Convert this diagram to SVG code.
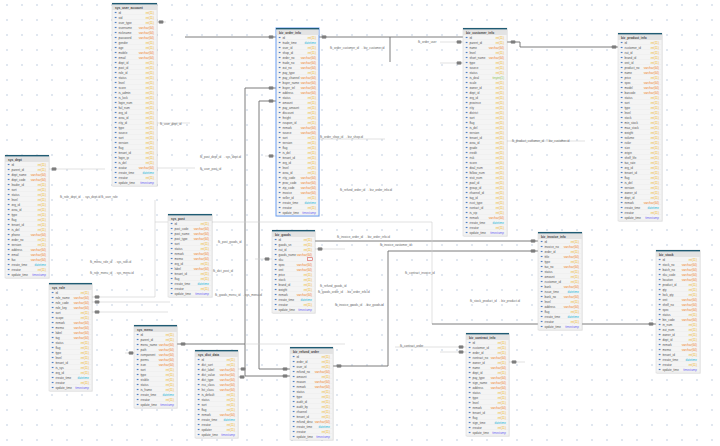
<svg xmlns="http://www.w3.org/2000/svg" width="720" height="446" viewBox="0 0 720 446">
<defs>
<pattern id="grid" patternUnits="userSpaceOnUse" width="15" height="15"><circle cx="7" cy="5" r="0.7" fill="#a9bcd4"/></pattern>
<pattern id="ic" patternUnits="userSpaceOnUse" width="5" height="5"><rect x="0" y="1.9" width="2" height="1.2" fill="#4f80c4"/></pattern>
<pattern id="sep" patternUnits="userSpaceOnUse" width="10" height="5"><rect x="0" y="4.75" width="10" height="0.25" fill="#e2e2e2"/></pattern>
<style>
.sh{fill:#000;opacity:.07}
.bd{fill:#f4f4f4;stroke:#d4d4d4;stroke-width:.5}
.sel{fill:#f4f4f4;stroke:#6a9ef2;stroke-width:1}
.hd{fill:#e3e3e3}
.bar{fill:#1f5b73}
.tt{font-family:"Liberation Sans",Arial,sans-serif;font-size:3.2px;font-weight:bold;fill:#444}
.nm{font-family:"Liberation Sans",Arial,sans-serif;font-size:3px;fill:#555}
.ty{font-family:"Liberation Sans",Arial,sans-serif;font-size:3px;text-anchor:end}
.i{fill:#efb21a}.v{fill:#ef7f1e}.d{fill:#1db5d8}.t{fill:#6f66f2}.g{fill:#8bc34a}
.c{fill:none;stroke:#6e6e6e;stroke-width:.9}
.cl{fill:none;stroke:#cdcdcd;stroke-width:.6}
.mk{fill:#7d7d7d;stroke:#9a9a9a;stroke-width:.3}
.lb{font-family:"Liberation Sans",Arial,sans-serif;font-size:3px;fill:#666}
</style>
</defs>
<rect width="720" height="446" fill="#ffffff"/>
<rect width="720" height="446" fill="url(#grid)"/>

<g id="connectors">
<path class="c" d="M185,37 H277"/>
<path class="c" d="M319,37 H463"/>
<path class="c" d="M390,37 V62"/>
<path class="cl" d="M440,42 H463 M440,63 H463"/>
<path class="c" d="M507,42 H520 V47 H618"/>
<path class="c" d="M277,88 H245 V376 H290"/>
<path class="c" d="M277,101 H259 V369 H290"/>
<path class="c" d="M333,366 H388 V251 H538"/>
<path class="c" d="M315,241 H538"/>
<path class="cl" d="M315,249 H345"/>
<path class="cl" d="M155,222 H432 V324"/>
<path class="c" d="M432,324 H656"/>
<path class="c" d="M177,344 H245"/>
<path class="cl" d="M245,344 H345"/>
<path class="cl" d="M238,369 H245 M238,377 H245"/>
<path class="cl" d="M125,353 H134"/>
<path class="cl" d="M92,297 H155 V200 M92,302 H170 M92,312 H168"/>
<path class="cl" d="M49,169 H105"/>
<path class="cl" d="M157,22 H166"/>
<path class="cl" d="M265,156 H276"/>
<path class="cl" d="M395,347 H466 M440,352 H466"/>
<path class="cl" d="M509,362 H525"/>
<path class="cl" d="M255,259 H272"/>
<path class="cl" d="M157,123 H190 M157,168 H195"/>
<path class="cl" d="M319,139 H385 M507,141 H585"/>
<rect class="mk" x="268.8" y="35.5" width="4.5" height="3" rx=".8"/>
<rect class="mk" x="321.8" y="35.5" width="4.5" height="3" rx=".8"/>
<rect class="mk" x="456.8" y="40.5" width="4.5" height="3" rx=".8"/>
<rect class="mk" x="456.8" y="61.5" width="4.5" height="3" rx=".8"/>
<rect class="mk" x="510.8" y="40.5" width="4.5" height="3" rx=".8"/>
<rect class="mk" x="611.8" y="45.5" width="4.5" height="3" rx=".8"/>
<rect class="mk" x="268.8" y="86.5" width="4.5" height="3" rx=".8"/>
<rect class="mk" x="268.8" y="99.5" width="4.5" height="3" rx=".8"/>
<rect class="mk" x="268.8" y="154.5" width="4.5" height="3" rx=".8"/>
<rect class="mk" x="158.8" y="20.5" width="4.5" height="3" rx=".8"/>
<rect class="mk" x="51.8" y="167.5" width="4.5" height="3" rx=".8"/>
<rect class="mk" x="94.8" y="295.5" width="4.5" height="3" rx=".8"/>
<rect class="mk" x="94.8" y="300.5" width="4.5" height="3" rx=".8"/>
<rect class="mk" x="94.8" y="310.5" width="4.5" height="3" rx=".8"/>
<rect class="mk" x="180.8" y="342.5" width="4.5" height="3" rx=".8"/>
<rect class="mk" x="128.8" y="351.5" width="4.5" height="3" rx=".8"/>
<rect class="mk" x="240.8" y="367.5" width="4.5" height="3" rx=".8"/>
<rect class="mk" x="239.8" y="375.5" width="4.5" height="3" rx=".8"/>
<rect class="mk" x="282.8" y="374.5" width="4.5" height="3" rx=".8"/>
<rect class="mk" x="282.8" y="367.5" width="4.5" height="3" rx=".8"/>
<rect class="mk" x="336.8" y="364.5" width="4.5" height="3" rx=".8"/>
<rect class="mk" x="264.8" y="257.5" width="4.5" height="3" rx=".8"/>
<rect class="mk" x="317.8" y="247.5" width="4.5" height="3" rx=".8"/>
<rect class="mk" x="530.8" y="239.5" width="4.5" height="3" rx=".8"/>
<rect class="mk" x="530.8" y="249.5" width="4.5" height="3" rx=".8"/>
<rect class="mk" x="648.8" y="322.5" width="4.5" height="3" rx=".8"/>
<rect class="mk" x="458.8" y="345.5" width="4.5" height="3" rx=".8"/>
<rect class="mk" x="458.8" y="350.5" width="4.5" height="3" rx=".8"/>
<rect class="mk" x="511.8" y="360.5" width="4.5" height="3" rx=".8"/>
<text class="lb" x="160" y="125">fk_user_dept_id</text>
<text class="lb" x="200" y="158">fk_post_dept_id → sys_dept.id</text>
<text class="lb" x="200" y="170">fk_user_post_id</text>
<text class="lb" x="60" y="198">fk_role_dept_id → sys_dept.id  fk_user_role</text>
<text class="lb" x="90" y="263">fk_menu_role_id → sys_role.id</text>
<text class="lb" x="90" y="274">fk_role_menu_id → sys_menu.id</text>
<text class="lb" x="218" y="243">fk_post_goods_id</text>
<text class="lb" x="213" y="272">fk_dict_post_id</text>
<text class="lb" x="215" y="296">fk_goods_menu_id → sys_menu.id</text>
<text class="lb" x="320" y="287">fk_refund_goods_id</text>
<text class="lb" x="318" y="293">fk_goods_order_id → biz_order_info.id</text>
<text class="lb" x="335" y="306">fk_invoice_goods_id → biz_goods.id</text>
<text class="lb" x="337" y="238">fk_invoice_order_id → biz_order_info.id</text>
<text class="lb" x="380" y="246">fk_invoice_customer_id</text>
<text class="lb" x="405" y="274">fk_contract_invoice_id</text>
<text class="lb" x="470" y="302">fk_stock_product_id → biz_product.id</text>
<text class="lb" x="330" y="49">fk_order_customer_id → biz_customer.id</text>
<text class="lb" x="418" y="43">fk_order_user</text>
<text class="lb" x="320" y="138">fk_order_shop_id → biz_shop.id</text>
<text class="lb" x="512" y="142">fk_product_customer_id → biz_customer.id</text>
<text class="lb" x="340" y="191">fk_refund_order_id → biz_order_info.id</text>
<text class="lb" x="400" y="347">fk_contract_order</text>
</g>

<g id="t1" transform="translate(112,3)">
<rect class="sh" x=".8" y=".8" width="45" height="183"/>
<rect class="bd" width="45" height="183"/>
<rect class="hd" y="1.3" width="45" height="5.7"/>
<rect class="bar" width="45" height="1.4"/>
<text class="tt" x="3" y="5.5">sys_user_account</text>
<rect x="1" y="0" width="43" height="175" fill="url(#sep)" transform="translate(0,7)"/>
<rect x="0" y="0" width="5" height="175" fill="url(#ic)" transform="translate(2.5,7)"/>
<text class="nm" y="5.6"><tspan x="6.5" dy="5">id</tspan><tspan x="6.5" dy="5">uid</tspan><tspan x="6.5" dy="5">user_type</tspan><tspan x="6.5" dy="5">username</tspan><tspan x="6.5" dy="5">nickname</tspan><tspan x="6.5" dy="5">password</tspan><tspan x="6.5" dy="5">gender</tspan><tspan x="6.5" dy="5">age</tspan><tspan x="6.5" dy="5">mobile</tspan><tspan x="6.5" dy="5">email</tspan><tspan x="6.5" dy="5">dept_id</tspan><tspan x="6.5" dy="5">post_id</tspan><tspan x="6.5" dy="5">role_id</tspan><tspan x="6.5" dy="5">status</tspan><tspan x="6.5" dy="5">level</tspan><tspan x="6.5" dy="5">score</tspan><tspan x="6.5" dy="5">is_admin</tspan><tspan x="6.5" dy="5">is_lock</tspan><tspan x="6.5" dy="5">login_num</tspan><tspan x="6.5" dy="5">fail_num</tspan><tspan x="6.5" dy="5">org_id</tspan><tspan x="6.5" dy="5">area_id</tspan><tspan x="6.5" dy="5">city_id</tspan><tspan x="6.5" dy="5">type</tspan><tspan x="6.5" dy="5">source</tspan><tspan x="6.5" dy="5">sort</tspan><tspan x="6.5" dy="5">version</tspan><tspan x="6.5" dy="5">flag</tspan><tspan x="6.5" dy="5">tenant_id</tspan><tspan x="6.5" dy="5">login_ip</tspan><tspan x="6.5" dy="5">is_del</tspan><tspan x="6.5" dy="5">avatar</tspan><tspan x="6.5" dy="5">create_time</tspan><tspan x="6.5" dy="5">creator</tspan><tspan x="6.5" dy="5">update_time</tspan></text>
<text class="ty" y="5.6"><tspan x="42" dy="5" class="i">int(11)</tspan><tspan x="42" dy="5" class="i">int(11)</tspan><tspan x="42" dy="5" class="i">int(11)</tspan><tspan x="42" dy="5" class="v">varchar(64)</tspan><tspan x="42" dy="5" class="v">varchar(64)</tspan><tspan x="42" dy="5" class="v">varchar(64)</tspan><tspan x="42" dy="5" class="i">int(11)</tspan><tspan x="42" dy="5" class="i">int(11)</tspan><tspan x="42" dy="5" class="v">varchar(64)</tspan><tspan x="42" dy="5" class="v">varchar(64)</tspan><tspan x="42" dy="5" class="i">int(11)</tspan><tspan x="42" dy="5" class="i">int(11)</tspan><tspan x="42" dy="5" class="i">int(11)</tspan><tspan x="42" dy="5" class="i">int(11)</tspan><tspan x="42" dy="5" class="i">int(11)</tspan><tspan x="42" dy="5" class="i">int(11)</tspan><tspan x="42" dy="5" class="i">int(11)</tspan><tspan x="42" dy="5" class="i">int(11)</tspan><tspan x="42" dy="5" class="i">int(11)</tspan><tspan x="42" dy="5" class="i">int(11)</tspan><tspan x="42" dy="5" class="i">int(11)</tspan><tspan x="42" dy="5" class="i">int(11)</tspan><tspan x="42" dy="5" class="i">int(11)</tspan><tspan x="42" dy="5" class="i">int(11)</tspan><tspan x="42" dy="5" class="i">int(11)</tspan><tspan x="42" dy="5" class="i">int(11)</tspan><tspan x="42" dy="5" class="i">int(11)</tspan><tspan x="42" dy="5" class="i">int(11)</tspan><tspan x="42" dy="5" class="i">int(11)</tspan><tspan x="42" dy="5" class="i">int(11)</tspan><tspan x="42" dy="5" class="i">int(11)</tspan><tspan x="42" dy="5" class="v">varchar(64)</tspan><tspan x="42" dy="5" class="d">datetime</tspan><tspan x="42" dy="5" class="i">int(11)</tspan><tspan x="42" dy="5" class="t">timestamp</tspan></text>
</g>

<g id="t2" transform="translate(5,155)">
<rect class="sh" x=".8" y=".8" width="44" height="123"/>
<rect class="bd" width="44" height="123"/>
<rect class="hd" y="1.3" width="44" height="5.7"/>
<rect class="bar" width="44" height="1.4"/>
<text class="tt" x="3" y="5.5">sys_dept</text>
<rect x="1" y="0" width="42" height="115" fill="url(#sep)" transform="translate(0,7)"/>
<rect x="0" y="0" width="5" height="115" fill="url(#ic)" transform="translate(2.5,7)"/>
<text class="nm" y="5.6"><tspan x="6.5" dy="5">id</tspan><tspan x="6.5" dy="5">parent_id</tspan><tspan x="6.5" dy="5">dept_name</tspan><tspan x="6.5" dy="5">dept_code</tspan><tspan x="6.5" dy="5">leader_id</tspan><tspan x="6.5" dy="5">sort</tspan><tspan x="6.5" dy="5">status</tspan><tspan x="6.5" dy="5">level</tspan><tspan x="6.5" dy="5">org_id</tspan><tspan x="6.5" dy="5">area_id</tspan><tspan x="6.5" dy="5">type</tspan><tspan x="6.5" dy="5">flag</tspan><tspan x="6.5" dy="5">tenant_id</tspan><tspan x="6.5" dy="5">is_del</tspan><tspan x="6.5" dy="5">phone</tspan><tspan x="6.5" dy="5">order_no</tspan><tspan x="6.5" dy="5">version</tspan><tspan x="6.5" dy="5">address</tspan><tspan x="6.5" dy="5">email</tspan><tspan x="6.5" dy="5">fax</tspan><tspan x="6.5" dy="5">create_time</tspan><tspan x="6.5" dy="5">creator</tspan><tspan x="6.5" dy="5">update_time</tspan></text>
<text class="ty" y="5.6"><tspan x="41" dy="5" class="i">int(11)</tspan><tspan x="41" dy="5" class="i">int(11)</tspan><tspan x="41" dy="5" class="v">varchar(64)</tspan><tspan x="41" dy="5" class="v">varchar(64)</tspan><tspan x="41" dy="5" class="i">int(11)</tspan><tspan x="41" dy="5" class="i">int(11)</tspan><tspan x="41" dy="5" class="i">int(11)</tspan><tspan x="41" dy="5" class="i">int(11)</tspan><tspan x="41" dy="5" class="i">int(11)</tspan><tspan x="41" dy="5" class="i">int(11)</tspan><tspan x="41" dy="5" class="i">int(11)</tspan><tspan x="41" dy="5" class="i">int(11)</tspan><tspan x="41" dy="5" class="i">int(11)</tspan><tspan x="41" dy="5" class="i">int(11)</tspan><tspan x="41" dy="5" class="v">varchar(64)</tspan><tspan x="41" dy="5" class="i">int(11)</tspan><tspan x="41" dy="5" class="i">int(11)</tspan><tspan x="41" dy="5" class="v">varchar(64)</tspan><tspan x="41" dy="5" class="v">varchar(64)</tspan><tspan x="41" dy="5" class="v">varchar(64)</tspan><tspan x="41" dy="5" class="d">datetime</tspan><tspan x="41" dy="5" class="i">int(11)</tspan><tspan x="41" dy="5" class="t">timestamp</tspan></text>
</g>

<g id="t3" transform="translate(49,283)">
<rect class="sh" x=".8" y=".8" width="43" height="108"/>
<rect class="bd" width="43" height="108"/>
<rect class="hd" y="1.3" width="43" height="5.7"/>
<rect class="bar" width="43" height="1.4"/>
<text class="tt" x="3" y="5.5">sys_role</text>
<rect x="1" y="0" width="41" height="100" fill="url(#sep)" transform="translate(0,7)"/>
<rect x="0" y="0" width="5" height="100" fill="url(#ic)" transform="translate(2.5,7)"/>
<text class="nm" y="5.6"><tspan x="6.5" dy="5">id</tspan><tspan x="6.5" dy="5">role_name</tspan><tspan x="6.5" dy="5">role_code</tspan><tspan x="6.5" dy="5">role_key</tspan><tspan x="6.5" dy="5">sort</tspan><tspan x="6.5" dy="5">scope</tspan><tspan x="6.5" dy="5">remark</tspan><tspan x="6.5" dy="5">memo</tspan><tspan x="6.5" dy="5">label</tspan><tspan x="6.5" dy="5">tag</tspan><tspan x="6.5" dy="5">status</tspan><tspan x="6.5" dy="5">flag</tspan><tspan x="6.5" dy="5">type</tspan><tspan x="6.5" dy="5">level</tspan><tspan x="6.5" dy="5">tenant_id</tspan><tspan x="6.5" dy="5">is_sys</tspan><tspan x="6.5" dy="5">org_id</tspan><tspan x="6.5" dy="5">create_time</tspan><tspan x="6.5" dy="5">creator</tspan><tspan x="6.5" dy="5">update_time</tspan></text>
<text class="ty" y="5.6"><tspan x="40" dy="5" class="i">int(11)</tspan><tspan x="40" dy="5" class="v">varchar(64)</tspan><tspan x="40" dy="5" class="v">varchar(64)</tspan><tspan x="40" dy="5" class="v">varchar(64)</tspan><tspan x="40" dy="5" class="i">int(11)</tspan><tspan x="40" dy="5" class="i">int(11)</tspan><tspan x="40" dy="5" class="v">varchar(64)</tspan><tspan x="40" dy="5" class="v">varchar(64)</tspan><tspan x="40" dy="5" class="v">varchar(64)</tspan><tspan x="40" dy="5" class="v">varchar(64)</tspan><tspan x="40" dy="5" class="i">int(11)</tspan><tspan x="40" dy="5" class="i">int(11)</tspan><tspan x="40" dy="5" class="i">int(11)</tspan><tspan x="40" dy="5" class="i">int(11)</tspan><tspan x="40" dy="5" class="i">int(11)</tspan><tspan x="40" dy="5" class="i">int(11)</tspan><tspan x="40" dy="5" class="i">int(11)</tspan><tspan x="40" dy="5" class="d">datetime</tspan><tspan x="40" dy="5" class="i">int(11)</tspan><tspan x="40" dy="5" class="t">timestamp</tspan></text>
</g>

<g id="t4" transform="translate(134,325)">
<rect class="sh" x=".8" y=".8" width="43" height="83"/>
<rect class="bd" width="43" height="83"/>
<rect class="hd" y="1.3" width="43" height="5.7"/>
<rect class="bar" width="43" height="1.4"/>
<text class="tt" x="3" y="5.5">sys_menu</text>
<rect x="1" y="0" width="41" height="75" fill="url(#sep)" transform="translate(0,7)"/>
<rect x="0" y="0" width="5" height="75" fill="url(#ic)" transform="translate(2.5,7)"/>
<text class="nm" y="5.6"><tspan x="6.5" dy="5">id</tspan><tspan x="6.5" dy="5">parent_id</tspan><tspan x="6.5" dy="5">menu_name</tspan><tspan x="6.5" dy="5">path</tspan><tspan x="6.5" dy="5">component</tspan><tspan x="6.5" dy="5">perms</tspan><tspan x="6.5" dy="5">icon</tspan><tspan x="6.5" dy="5">sort</tspan><tspan x="6.5" dy="5">type</tspan><tspan x="6.5" dy="5">visible</tspan><tspan x="6.5" dy="5">status</tspan><tspan x="6.5" dy="5">is_frame</tspan><tspan x="6.5" dy="5">create_time</tspan><tspan x="6.5" dy="5">creator</tspan><tspan x="6.5" dy="5">update_time</tspan></text>
<text class="ty" y="5.6"><tspan x="40" dy="5" class="i">int(11)</tspan><tspan x="40" dy="5" class="i">int(11)</tspan><tspan x="40" dy="5" class="v">varchar(64)</tspan><tspan x="40" dy="5" class="v">varchar(64)</tspan><tspan x="40" dy="5" class="v">varchar(64)</tspan><tspan x="40" dy="5" class="v">varchar(64)</tspan><tspan x="40" dy="5" class="v">varchar(64)</tspan><tspan x="40" dy="5" class="i">int(11)</tspan><tspan x="40" dy="5" class="i">int(11)</tspan><tspan x="40" dy="5" class="i">int(11)</tspan><tspan x="40" dy="5" class="i">int(11)</tspan><tspan x="40" dy="5" class="i">int(11)</tspan><tspan x="40" dy="5" class="d">datetime</tspan><tspan x="40" dy="5" class="i">int(11)</tspan><tspan x="40" dy="5" class="t">timestamp</tspan></text>
</g>

<g id="t5" transform="translate(168,214)">
<rect class="sh" x=".8" y=".8" width="44" height="83"/>
<rect class="bd" width="44" height="83"/>
<rect class="hd" y="1.3" width="44" height="5.7"/>
<rect class="bar" width="44" height="1.4"/>
<text class="tt" x="3" y="5.5">sys_post</text>
<rect x="1" y="0" width="42" height="75" fill="url(#sep)" transform="translate(0,7)"/>
<rect x="0" y="0" width="5" height="75" fill="url(#ic)" transform="translate(2.5,7)"/>
<text class="nm" y="5.6"><tspan x="6.5" dy="5">id</tspan><tspan x="6.5" dy="5">post_code</tspan><tspan x="6.5" dy="5">post_name</tspan><tspan x="6.5" dy="5">post_type</tspan><tspan x="6.5" dy="5">sort</tspan><tspan x="6.5" dy="5">status</tspan><tspan x="6.5" dy="5">remark</tspan><tspan x="6.5" dy="5">memo</tspan><tspan x="6.5" dy="5">org_id</tspan><tspan x="6.5" dy="5">label</tspan><tspan x="6.5" dy="5">tenant_id</tspan><tspan x="6.5" dy="5">flag</tspan><tspan x="6.5" dy="5">create_time</tspan><tspan x="6.5" dy="5">creator</tspan><tspan x="6.5" dy="5">update_time</tspan></text>
<text class="ty" y="5.6"><tspan x="41" dy="5" class="i">int(11)</tspan><tspan x="41" dy="5" class="v">varchar(64)</tspan><tspan x="41" dy="5" class="v">varchar(64)</tspan><tspan x="41" dy="5" class="v">varchar(64)</tspan><tspan x="41" dy="5" class="i">int(11)</tspan><tspan x="41" dy="5" class="i">int(11)</tspan><tspan x="41" dy="5" class="v">varchar(64)</tspan><tspan x="41" dy="5" class="v">varchar(64)</tspan><tspan x="41" dy="5" class="i">int(11)</tspan><tspan x="41" dy="5" class="v">varchar(64)</tspan><tspan x="41" dy="5" class="i">int(11)</tspan><tspan x="41" dy="5" class="i">int(11)</tspan><tspan x="41" dy="5" class="d">datetime</tspan><tspan x="41" dy="5" class="i">int(11)</tspan><tspan x="41" dy="5" class="t">timestamp</tspan></text>
</g>

<g id="t6" transform="translate(195,350)">
<rect class="sh" x=".8" y=".8" width="43" height="88"/>
<rect class="bd" width="43" height="88"/>
<rect class="hd" y="1.3" width="43" height="5.7"/>
<rect class="bar" width="43" height="1.4"/>
<text class="tt" x="3" y="5.5">sys_dict_data</text>
<rect x="1" y="0" width="41" height="80" fill="url(#sep)" transform="translate(0,7)"/>
<rect x="0" y="0" width="5" height="80" fill="url(#ic)" transform="translate(2.5,7)"/>
<text class="nm" y="5.6"><tspan x="6.5" dy="5">id</tspan><tspan x="6.5" dy="5">dict_sort</tspan><tspan x="6.5" dy="5">dict_label</tspan><tspan x="6.5" dy="5">dict_value</tspan><tspan x="6.5" dy="5">dict_type</tspan><tspan x="6.5" dy="5">css_class</tspan><tspan x="6.5" dy="5">list_class</tspan><tspan x="6.5" dy="5">is_default</tspan><tspan x="6.5" dy="5">status</tspan><tspan x="6.5" dy="5">sort</tspan><tspan x="6.5" dy="5">flag</tspan><tspan x="6.5" dy="5">remark</tspan><tspan x="6.5" dy="5">create_time</tspan><tspan x="6.5" dy="5">creator</tspan><tspan x="6.5" dy="5">updater</tspan><tspan x="6.5" dy="5">update_time</tspan></text>
<text class="ty" y="5.6"><tspan x="40" dy="5" class="i">int(11)</tspan><tspan x="40" dy="5" class="i">int(11)</tspan><tspan x="40" dy="5" class="v">varchar(64)</tspan><tspan x="40" dy="5" class="v">varchar(64)</tspan><tspan x="40" dy="5" class="v">varchar(64)</tspan><tspan x="40" dy="5" class="v">varchar(64)</tspan><tspan x="40" dy="5" class="v">varchar(64)</tspan><tspan x="40" dy="5" class="i">int(11)</tspan><tspan x="40" dy="5" class="i">int(11)</tspan><tspan x="40" dy="5" class="i">int(11)</tspan><tspan x="40" dy="5" class="i">int(11)</tspan><tspan x="40" dy="5" class="v">varchar(64)</tspan><tspan x="40" dy="5" class="d">datetime</tspan><tspan x="40" dy="5" class="i">int(11)</tspan><tspan x="40" dy="5" class="i">int(11)</tspan><tspan x="40" dy="5" class="t">timestamp</tspan></text>
</g>

<g id="t7" transform="translate(276,28)">
<rect class="sh" x=".8" y=".8" width="43" height="188"/>
<rect class="sel" width="43" height="188"/>
<rect class="hd" x=".5" y="1.3" width="42" height="5.7"/>
<rect class="bar" width="43" height="1.4"/>
<text class="tt" x="3" y="5.5">biz_order_info</text>
<rect x="1" y="0" width="41" height="180" fill="url(#sep)" transform="translate(0,7)"/>
<rect x="0" y="0" width="5" height="180" fill="url(#ic)" transform="translate(2.5,7)"/>
<text class="nm" y="5.6"><tspan x="6.5" dy="5">id</tspan><tspan x="6.5" dy="5">trade_time</tspan><tspan x="6.5" dy="5">user_id</tspan><tspan x="6.5" dy="5">shop_id</tspan><tspan x="6.5" dy="5">order_no</tspan><tspan x="6.5" dy="5">trade_no</tspan><tspan x="6.5" dy="5">out_no</tspan><tspan x="6.5" dy="5">pay_type</tspan><tspan x="6.5" dy="5">pay_channel</tspan><tspan x="6.5" dy="5">buyer_name</tspan><tspan x="6.5" dy="5">buyer_tel</tspan><tspan x="6.5" dy="5">address</tspan><tspan x="6.5" dy="5">status</tspan><tspan x="6.5" dy="5">amount</tspan><tspan x="6.5" dy="5">pay_amount</tspan><tspan x="6.5" dy="5">discount</tspan><tspan x="6.5" dy="5">freight</tspan><tspan x="6.5" dy="5">coupon_id</tspan><tspan x="6.5" dy="5">remark</tspan><tspan x="6.5" dy="5">source</tspan><tspan x="6.5" dy="5">sort</tspan><tspan x="6.5" dy="5">version</tspan><tspan x="6.5" dy="5">flag</tspan><tspan x="6.5" dy="5">is_del</tspan><tspan x="6.5" dy="5">tenant_id</tspan><tspan x="6.5" dy="5">org_id</tspan><tspan x="6.5" dy="5">level</tspan><tspan x="6.5" dy="5">area_id</tspan><tspan x="6.5" dy="5">city_code</tspan><tspan x="6.5" dy="5">prov_code</tspan><tspan x="6.5" dy="5">zip_code</tspan><tspan x="6.5" dy="5">invoice</tspan><tspan x="6.5" dy="5">seller_id</tspan><tspan x="6.5" dy="5">create_time</tspan><tspan x="6.5" dy="5">creator</tspan><tspan x="6.5" dy="5">update_time</tspan></text>
<text class="ty" y="5.6"><tspan x="40" dy="5" class="i">int(11)</tspan><tspan x="40" dy="5" class="d">datetime</tspan><tspan x="40" dy="5" class="i">int(11)</tspan><tspan x="40" dy="5" class="i">int(11)</tspan><tspan x="40" dy="5" class="v">varchar(64)</tspan><tspan x="40" dy="5" class="v">varchar(64)</tspan><tspan x="40" dy="5" class="v">varchar(64)</tspan><tspan x="40" dy="5" class="i">int(11)</tspan><tspan x="40" dy="5" class="v">varchar(64)</tspan><tspan x="40" dy="5" class="v">varchar(64)</tspan><tspan x="40" dy="5" class="v">varchar(64)</tspan><tspan x="40" dy="5" class="v">varchar(64)</tspan><tspan x="40" dy="5" class="i">int(11)</tspan><tspan x="40" dy="5" class="i">int(11)</tspan><tspan x="40" dy="5" class="i">int(11)</tspan><tspan x="40" dy="5" class="i">int(11)</tspan><tspan x="40" dy="5" class="i">int(11)</tspan><tspan x="40" dy="5" class="i">int(11)</tspan><tspan x="40" dy="5" class="v">varchar(64)</tspan><tspan x="40" dy="5" class="v">varchar(64)</tspan><tspan x="40" dy="5" class="i">int(11)</tspan><tspan x="40" dy="5" class="i">int(11)</tspan><tspan x="40" dy="5" class="i">int(11)</tspan><tspan x="40" dy="5" class="i">int(11)</tspan><tspan x="40" dy="5" class="i">int(11)</tspan><tspan x="40" dy="5" class="i">int(11)</tspan><tspan x="40" dy="5" class="i">int(11)</tspan><tspan x="40" dy="5" class="i">int(11)</tspan><tspan x="40" dy="5" class="v">varchar(64)</tspan><tspan x="40" dy="5" class="v">varchar(64)</tspan><tspan x="40" dy="5" class="v">varchar(64)</tspan><tspan x="40" dy="5" class="v">varchar(64)</tspan><tspan x="40" dy="5" class="i">int(11)</tspan><tspan x="40" dy="5" class="d">datetime</tspan><tspan x="40" dy="5" class="i">int(11)</tspan><tspan x="40" dy="5" class="t">timestamp</tspan></text>
</g>

<g id="t8" transform="translate(272,230)">
<rect class="sh" x=".8" y=".8" width="43" height="83"/>
<rect class="bd" width="43" height="83"/>
<rect class="hd" y="1.3" width="43" height="5.7"/>
<rect class="bar" width="43" height="1.4"/>
<text class="tt" x="3" y="5.5">biz_goods</text>
<rect x="1" y="0" width="41" height="75" fill="url(#sep)" transform="translate(0,7)"/>
<rect x="0" y="0" width="5" height="75" fill="url(#ic)" transform="translate(2.5,7)"/>
<rect x="35.3" y="27.7" width="5" height="2.8" fill="none" stroke="#d9534f" stroke-width=".6"/>
<text class="nm" y="5.6"><tspan x="6.5" dy="5">id</tspan><tspan x="6.5" dy="5">goods_sn</tspan><tspan x="6.5" dy="5">cat_id</tspan><tspan x="6.5" dy="5">goods_name</tspan><tspan x="6.5" dy="5">sku</tspan><tspan x="6.5" dy="5">spec</tspan><tspan x="6.5" dy="5">unit</tspan><tspan x="6.5" dy="5">price</tspan><tspan x="6.5" dy="5">stock</tspan><tspan x="6.5" dy="5">brand_id</tspan><tspan x="6.5" dy="5">weight</tspan><tspan x="6.5" dy="5">remark</tspan><tspan x="6.5" dy="5">create_time</tspan><tspan x="6.5" dy="5">creator</tspan><tspan x="6.5" dy="5">update_time</tspan></text>
<text class="ty" y="5.6"><tspan x="40" dy="5" class="i">int(11)</tspan><tspan x="40" dy="5" class="i">int(11)</tspan><tspan x="40" dy="5" class="i">int(11)</tspan><tspan x="40" dy="5" class="v">varchar(64)</tspan><tspan x="40" dy="10" class="v">varchar(64)</tspan><tspan x="40" dy="5" class="v">varchar(64)</tspan><tspan x="40" dy="5" class="i">int(11)</tspan><tspan x="40" dy="5" class="i">int(11)</tspan><tspan x="40" dy="5" class="i">int(11)</tspan><tspan x="40" dy="5" class="i">int(11)</tspan><tspan x="40" dy="5" class="v">varchar(64)</tspan><tspan x="40" dy="5" class="d">datetime</tspan><tspan x="40" dy="5" class="i">int(11)</tspan><tspan x="40" dy="5" class="t">timestamp</tspan></text>
</g>

<g id="t9" transform="translate(290,347)">
<rect class="sh" x=".8" y=".8" width="43" height="93"/>
<rect class="bd" width="43" height="93"/>
<rect class="hd" y="1.3" width="43" height="5.7"/>
<rect class="bar" width="43" height="1.4"/>
<text class="tt" x="3" y="5.5">biz_refund_order</text>
<rect x="1" y="0" width="41" height="85" fill="url(#sep)" transform="translate(0,7)"/>
<rect x="0" y="0" width="5" height="85" fill="url(#ic)" transform="translate(2.5,7)"/>
<text class="nm" y="5.6"><tspan x="6.5" dy="5">id</tspan><tspan x="6.5" dy="5">order_id</tspan><tspan x="6.5" dy="5">user_id</tspan><tspan x="6.5" dy="5">refund_no</tspan><tspan x="6.5" dy="5">amount</tspan><tspan x="6.5" dy="5">reason</tspan><tspan x="6.5" dy="5">remark</tspan><tspan x="6.5" dy="5">status</tspan><tspan x="6.5" dy="5">type</tspan><tspan x="6.5" dy="5">audit_id</tspan><tspan x="6.5" dy="5">audit_by</tspan><tspan x="6.5" dy="5">channel</tspan><tspan x="6.5" dy="5">tenant_id</tspan><tspan x="6.5" dy="5">refund_desc</tspan><tspan x="6.5" dy="5">create_time</tspan><tspan x="6.5" dy="5">creator</tspan><tspan x="6.5" dy="5">update_time</tspan></text>
<text class="ty" y="5.6"><tspan x="40" dy="5" class="i">int(11)</tspan><tspan x="40" dy="5" class="i">int(11)</tspan><tspan x="40" dy="5" class="i">int(11)</tspan><tspan x="40" dy="5" class="v">varchar(64)</tspan><tspan x="40" dy="5" class="i">int(11)</tspan><tspan x="40" dy="5" class="v">varchar(64)</tspan><tspan x="40" dy="5" class="v">varchar(64)</tspan><tspan x="40" dy="5" class="i">int(11)</tspan><tspan x="40" dy="5" class="i">int(11)</tspan><tspan x="40" dy="5" class="i">int(11)</tspan><tspan x="40" dy="5" class="i">int(11)</tspan><tspan x="40" dy="5" class="i">int(11)</tspan><tspan x="40" dy="5" class="i">int(11)</tspan><tspan x="40" dy="5" class="v">varchar(64)</tspan><tspan x="40" dy="5" class="d">datetime</tspan><tspan x="40" dy="5" class="i">int(11)</tspan><tspan x="40" dy="5" class="t">timestamp</tspan></text>
</g>

<g id="t10" transform="translate(463,28)">
<rect class="sh" x=".8" y=".8" width="44" height="208"/>
<rect class="bd" width="44" height="208"/>
<rect class="hd" y="1.3" width="44" height="5.7"/>
<rect class="bar" width="44" height="1.4"/>
<text class="tt" x="3" y="5.5">biz_customer_info</text>
<rect x="1" y="0" width="42" height="200" fill="url(#sep)" transform="translate(0,7)"/>
<rect x="0" y="0" width="5" height="200" fill="url(#ic)" transform="translate(2.5,7)"/>
<text class="nm" y="5.6"><tspan x="6.5" dy="5">id</tspan><tspan x="6.5" dy="5">parent_id</tspan><tspan x="6.5" dy="5">name</tspan><tspan x="6.5" dy="5">level</tspan><tspan x="6.5" dy="5">short_name</tspan><tspan x="6.5" dy="5">type</tspan><tspan x="6.5" dy="5">source</tspan><tspan x="6.5" dy="5">status</tspan><tspan x="6.5" dy="5">is_deal</tspan><tspan x="6.5" dy="5">scale</tspan><tspan x="6.5" dy="5">owner_id</tspan><tspan x="6.5" dy="5">dept_id</tspan><tspan x="6.5" dy="5">org_id</tspan><tspan x="6.5" dy="5">province</tspan><tspan x="6.5" dy="5">city</tspan><tspan x="6.5" dy="5">district</tspan><tspan x="6.5" dy="5">sort</tspan><tspan x="6.5" dy="5">flag</tspan><tspan x="6.5" dy="5">is_del</tspan><tspan x="6.5" dy="5">version</tspan><tspan x="6.5" dy="5">tenant_id</tspan><tspan x="6.5" dy="5">area_id</tspan><tspan x="6.5" dy="5">grade</tspan><tspan x="6.5" dy="5">credit</tspan><tspan x="6.5" dy="5">risk</tspan><tspan x="6.5" dy="5">score</tspan><tspan x="6.5" dy="5">deal_num</tspan><tspan x="6.5" dy="5">follow_num</tspan><tspan x="6.5" dy="5">visit_num</tspan><tspan x="6.5" dy="5">pool_id</tspan><tspan x="6.5" dy="5">group_id</tspan><tspan x="6.5" dy="5">channel_id</tspan><tspan x="6.5" dy="5">tag_id</tspan><tspan x="6.5" dy="5">cust_type</tspan><tspan x="6.5" dy="5">contact_id</tspan><tspan x="6.5" dy="5">is_vip</tspan><tspan x="6.5" dy="5">remark</tspan><tspan x="6.5" dy="5">create_time</tspan><tspan x="6.5" dy="5">creator</tspan><tspan x="6.5" dy="5">update_time</tspan></text>
<text class="ty" y="5.6"><tspan x="41" dy="5" class="i">int(11)</tspan><tspan x="41" dy="5" class="i">int(11)</tspan><tspan x="41" dy="5" class="v">varchar(64)</tspan><tspan x="41" dy="5" class="i">int(11)</tspan><tspan x="41" dy="5" class="v">varchar(64)</tspan><tspan x="41" dy="5" class="i">int(11)</tspan><tspan x="41" dy="5" class="i">int(11)</tspan><tspan x="41" dy="5" class="i">int(11)</tspan><tspan x="41" dy="5" class="g">tinyint(1)</tspan><tspan x="41" dy="5" class="i">int(11)</tspan><tspan x="41" dy="5" class="i">int(11)</tspan><tspan x="41" dy="5" class="i">int(11)</tspan><tspan x="41" dy="5" class="i">int(11)</tspan><tspan x="41" dy="5" class="i">int(11)</tspan><tspan x="41" dy="5" class="i">int(11)</tspan><tspan x="41" dy="5" class="i">int(11)</tspan><tspan x="41" dy="5" class="i">int(11)</tspan><tspan x="41" dy="5" class="i">int(11)</tspan><tspan x="41" dy="5" class="i">int(11)</tspan><tspan x="41" dy="5" class="i">int(11)</tspan><tspan x="41" dy="5" class="i">int(11)</tspan><tspan x="41" dy="5" class="i">int(11)</tspan><tspan x="41" dy="5" class="i">int(11)</tspan><tspan x="41" dy="5" class="i">int(11)</tspan><tspan x="41" dy="5" class="i">int(11)</tspan><tspan x="41" dy="5" class="i">int(11)</tspan><tspan x="41" dy="5" class="i">int(11)</tspan><tspan x="41" dy="5" class="i">int(11)</tspan><tspan x="41" dy="5" class="i">int(11)</tspan><tspan x="41" dy="5" class="i">int(11)</tspan><tspan x="41" dy="5" class="i">int(11)</tspan><tspan x="41" dy="5" class="i">int(11)</tspan><tspan x="41" dy="5" class="i">int(11)</tspan><tspan x="41" dy="5" class="i">int(11)</tspan><tspan x="41" dy="5" class="i">int(11)</tspan><tspan x="41" dy="5" class="i">int(11)</tspan><tspan x="41" dy="5" class="v">varchar(64)</tspan><tspan x="41" dy="5" class="d">datetime</tspan><tspan x="41" dy="5" class="i">int(11)</tspan><tspan x="41" dy="5" class="t">timestamp</tspan></text>
</g>

<g id="t11" transform="translate(466,333)">
<rect class="sh" x=".8" y=".8" width="43" height="103"/>
<rect class="bd" width="43" height="103"/>
<rect class="hd" y="1.3" width="43" height="5.7"/>
<rect class="bar" width="43" height="1.4"/>
<text class="tt" x="3" y="5.5">biz_contract_info</text>
<rect x="1" y="0" width="41" height="95" fill="url(#sep)" transform="translate(0,7)"/>
<rect x="0" y="0" width="5" height="95" fill="url(#ic)" transform="translate(2.5,7)"/>
<text class="nm" y="5.6"><tspan x="6.5" dy="5">id</tspan><tspan x="6.5" dy="5">customer_id</tspan><tspan x="6.5" dy="5">order_id</tspan><tspan x="6.5" dy="5">contract_no</tspan><tspan x="6.5" dy="5">owner_id</tspan><tspan x="6.5" dy="5">name</tspan><tspan x="6.5" dy="5">dept_id</tspan><tspan x="6.5" dy="5">pay_type</tspan><tspan x="6.5" dy="5">sign_name</tspan><tspan x="6.5" dy="5">address</tspan><tspan x="6.5" dy="5">status</tspan><tspan x="6.5" dy="5">type</tspan><tspan x="6.5" dy="5">level</tspan><tspan x="6.5" dy="5">remark</tspan><tspan x="6.5" dy="5">tenant_id</tspan><tspan x="6.5" dy="5">flag</tspan><tspan x="6.5" dy="5">sign_time</tspan><tspan x="6.5" dy="5">creator</tspan><tspan x="6.5" dy="5">update_time</tspan></text>
<text class="ty" y="5.6"><tspan x="40" dy="5" class="i">int(11)</tspan><tspan x="40" dy="5" class="i">int(11)</tspan><tspan x="40" dy="5" class="i">int(11)</tspan><tspan x="40" dy="5" class="v">varchar(64)</tspan><tspan x="40" dy="5" class="i">int(11)</tspan><tspan x="40" dy="5" class="v">varchar(64)</tspan><tspan x="40" dy="5" class="i">int(11)</tspan><tspan x="40" dy="5" class="v">varchar(64)</tspan><tspan x="40" dy="5" class="v">varchar(64)</tspan><tspan x="40" dy="5" class="v">varchar(64)</tspan><tspan x="40" dy="5" class="i">int(11)</tspan><tspan x="40" dy="5" class="i">int(11)</tspan><tspan x="40" dy="5" class="i">int(11)</tspan><tspan x="40" dy="5" class="v">varchar(64)</tspan><tspan x="40" dy="5" class="i">int(11)</tspan><tspan x="40" dy="5" class="i">int(11)</tspan><tspan x="40" dy="5" class="d">datetime</tspan><tspan x="40" dy="5" class="i">int(11)</tspan><tspan x="40" dy="5" class="t">timestamp</tspan></text>
</g>

<g id="t12" transform="translate(538,232)">
<rect class="sh" x=".8" y=".8" width="44" height="98"/>
<rect class="bd" width="44" height="98"/>
<rect class="hd" y="1.3" width="44" height="5.7"/>
<rect class="bar" width="44" height="1.4"/>
<text class="tt" x="3" y="5.5">biz_invoice_info</text>
<rect x="1" y="0" width="42" height="90" fill="url(#sep)" transform="translate(0,7)"/>
<rect x="0" y="0" width="5" height="90" fill="url(#ic)" transform="translate(2.5,7)"/>
<text class="nm" y="5.6"><tspan x="6.5" dy="5">id</tspan><tspan x="6.5" dy="5">invoice_no</tspan><tspan x="6.5" dy="5">order_id</tspan><tspan x="6.5" dy="5">title</tspan><tspan x="6.5" dy="5">type</tspan><tspan x="6.5" dy="5">tax_no</tspan><tspan x="6.5" dy="5">status</tspan><tspan x="6.5" dy="5">amount</tspan><tspan x="6.5" dy="5">customer_id</tspan><tspan x="6.5" dy="5">bank</tspan><tspan x="6.5" dy="5">issue_time</tspan><tspan x="6.5" dy="5">bank_no</tspan><tspan x="6.5" dy="5">level</tspan><tspan x="6.5" dy="5">address</tspan><tspan x="6.5" dy="5">flag</tspan><tspan x="6.5" dy="5">create_time</tspan><tspan x="6.5" dy="5">creator</tspan><tspan x="6.5" dy="5">update_time</tspan></text>
<text class="ty" y="5.6"><tspan x="41" dy="5" class="i">int(11)</tspan><tspan x="41" dy="5" class="v">varchar(64)</tspan><tspan x="41" dy="5" class="i">int(11)</tspan><tspan x="41" dy="5" class="v">varchar(64)</tspan><tspan x="41" dy="5" class="i">int(11)</tspan><tspan x="41" dy="5" class="v">varchar(64)</tspan><tspan x="41" dy="5" class="i">int(11)</tspan><tspan x="41" dy="5" class="i">int(11)</tspan><tspan x="41" dy="5" class="i">int(11)</tspan><tspan x="41" dy="5" class="v">varchar(64)</tspan><tspan x="41" dy="5" class="d">datetime</tspan><tspan x="41" dy="5" class="v">varchar(64)</tspan><tspan x="41" dy="5" class="i">int(11)</tspan><tspan x="41" dy="5" class="v">varchar(64)</tspan><tspan x="41" dy="5" class="i">int(11)</tspan><tspan x="41" dy="5" class="d">datetime</tspan><tspan x="41" dy="5" class="i">int(11)</tspan><tspan x="41" dy="5" class="t">timestamp</tspan></text>
</g>

<g id="t13" transform="translate(618,33)">
<rect class="sh" x=".8" y=".8" width="44" height="188"/>
<rect class="bd" width="44" height="188"/>
<rect class="hd" y="1.3" width="44" height="5.7"/>
<rect class="bar" width="44" height="1.4"/>
<text class="tt" x="3" y="5.5">biz_product_info</text>
<rect x="1" y="0" width="42" height="180" fill="url(#sep)" transform="translate(0,7)"/>
<rect x="0" y="0" width="5" height="180" fill="url(#ic)" transform="translate(2.5,7)"/>
<text class="nm" y="5.6"><tspan x="6.5" dy="5">id</tspan><tspan x="6.5" dy="5">customer_id</tspan><tspan x="6.5" dy="5">cat_id</tspan><tspan x="6.5" dy="5">brand_id</tspan><tspan x="6.5" dy="5">unit_id</tspan><tspan x="6.5" dy="5">product_no</tspan><tspan x="6.5" dy="5">name</tspan><tspan x="6.5" dy="5">price</tspan><tspan x="6.5" dy="5">spec</tspan><tspan x="6.5" dy="5">model</tspan><tspan x="6.5" dy="5">barcode</tspan><tspan x="6.5" dy="5">status</tspan><tspan x="6.5" dy="5">sort</tspan><tspan x="6.5" dy="5">type</tspan><tspan x="6.5" dy="5">level</tspan><tspan x="6.5" dy="5">stock</tspan><tspan x="6.5" dy="5">min_stock</tspan><tspan x="6.5" dy="5">max_stock</tspan><tspan x="6.5" dy="5">weight</tspan><tspan x="6.5" dy="5">volume</tspan><tspan x="6.5" dy="5">color</tspan><tspan x="6.5" dy="5">size</tspan><tspan x="6.5" dy="5">origin</tspan><tspan x="6.5" dy="5">shelf_life</tspan><tspan x="6.5" dy="5">tax_rate</tspan><tspan x="6.5" dy="5">org_id</tspan><tspan x="6.5" dy="5">tenant_id</tspan><tspan x="6.5" dy="5">flag</tspan><tspan x="6.5" dy="5">is_del</tspan><tspan x="6.5" dy="5">version</tspan><tspan x="6.5" dy="5">owner_id</tspan><tspan x="6.5" dy="5">dept_id</tspan><tspan x="6.5" dy="5">remark</tspan><tspan x="6.5" dy="5">create_time</tspan><tspan x="6.5" dy="5">creator</tspan><tspan x="6.5" dy="5">update_time</tspan></text>
<text class="ty" y="5.6"><tspan x="41" dy="5" class="i">int(11)</tspan><tspan x="41" dy="5" class="i">int(11)</tspan><tspan x="41" dy="5" class="i">int(11)</tspan><tspan x="41" dy="5" class="i">int(11)</tspan><tspan x="41" dy="5" class="i">int(11)</tspan><tspan x="41" dy="5" class="v">varchar(64)</tspan><tspan x="41" dy="5" class="v">varchar(64)</tspan><tspan x="41" dy="5" class="i">int(11)</tspan><tspan x="41" dy="5" class="v">varchar(64)</tspan><tspan x="41" dy="5" class="v">varchar(64)</tspan><tspan x="41" dy="5" class="v">varchar(64)</tspan><tspan x="41" dy="5" class="i">int(11)</tspan><tspan x="41" dy="5" class="i">int(11)</tspan><tspan x="41" dy="5" class="i">int(11)</tspan><tspan x="41" dy="5" class="i">int(11)</tspan><tspan x="41" dy="5" class="i">int(11)</tspan><tspan x="41" dy="5" class="i">int(11)</tspan><tspan x="41" dy="5" class="i">int(11)</tspan><tspan x="41" dy="5" class="i">int(11)</tspan><tspan x="41" dy="5" class="i">int(11)</tspan><tspan x="41" dy="5" class="i">int(11)</tspan><tspan x="41" dy="5" class="i">int(11)</tspan><tspan x="41" dy="5" class="i">int(11)</tspan><tspan x="41" dy="5" class="i">int(11)</tspan><tspan x="41" dy="5" class="i">int(11)</tspan><tspan x="41" dy="5" class="i">int(11)</tspan><tspan x="41" dy="5" class="i">int(11)</tspan><tspan x="41" dy="5" class="i">int(11)</tspan><tspan x="41" dy="5" class="i">int(11)</tspan><tspan x="41" dy="5" class="i">int(11)</tspan><tspan x="41" dy="5" class="i">int(11)</tspan><tspan x="41" dy="5" class="i">int(11)</tspan><tspan x="41" dy="5" class="v">varchar(64)</tspan><tspan x="41" dy="5" class="d">datetime</tspan><tspan x="41" dy="5" class="i">int(11)</tspan><tspan x="41" dy="5" class="t">timestamp</tspan></text>
</g>

<g id="t14" transform="translate(656,250)">
<rect class="sh" x=".8" y=".8" width="44" height="123"/>
<rect class="bd" width="44" height="123"/>
<rect class="hd" y="1.3" width="44" height="5.7"/>
<rect class="bar" width="44" height="1.4"/>
<text class="tt" x="3" y="5.5">biz_stock</text>
<rect x="1" y="0" width="42" height="115" fill="url(#sep)" transform="translate(0,7)"/>
<rect x="0" y="0" width="5" height="115" fill="url(#ic)" transform="translate(2.5,7)"/>
<text class="nm" y="5.6"><tspan x="6.5" dy="5">id</tspan><tspan x="6.5" dy="5">stock_no</tspan><tspan x="6.5" dy="5">batch_no</tspan><tspan x="6.5" dy="5">sku_code</tspan><tspan x="6.5" dy="5">location</tspan><tspan x="6.5" dy="5">product_id</tspan><tspan x="6.5" dy="5">qty</tspan><tspan x="6.5" dy="5">lock_qty</tspan><tspan x="6.5" dy="5">unit</tspan><tspan x="6.5" dy="5">shelf_no</tspan><tspan x="6.5" dy="5">spec</tspan><tspan x="6.5" dy="5">status</tspan><tspan x="6.5" dy="5">bin_code</tspan><tspan x="6.5" dy="5">in_num</tspan><tspan x="6.5" dy="5">out_num</tspan><tspan x="6.5" dy="5">owner_id</tspan><tspan x="6.5" dy="5">dept_id</tspan><tspan x="6.5" dy="5">remark</tspan><tspan x="6.5" dy="5">memo</tspan><tspan x="6.5" dy="5">tenant_id</tspan><tspan x="6.5" dy="5">create_time</tspan><tspan x="6.5" dy="5">creator</tspan><tspan x="6.5" dy="5">update_time</tspan></text>
<text class="ty" y="5.6"><tspan x="41" dy="5" class="i">int(11)</tspan><tspan x="41" dy="5" class="v">varchar(64)</tspan><tspan x="41" dy="5" class="v">varchar(64)</tspan><tspan x="41" dy="5" class="v">varchar(64)</tspan><tspan x="41" dy="5" class="v">varchar(64)</tspan><tspan x="41" dy="5" class="i">int(11)</tspan><tspan x="41" dy="5" class="i">int(11)</tspan><tspan x="41" dy="5" class="i">int(11)</tspan><tspan x="41" dy="5" class="v">varchar(64)</tspan><tspan x="41" dy="5" class="v">varchar(64)</tspan><tspan x="41" dy="5" class="v">varchar(64)</tspan><tspan x="41" dy="5" class="i">int(11)</tspan><tspan x="41" dy="5" class="v">varchar(64)</tspan><tspan x="41" dy="5" class="i">int(11)</tspan><tspan x="41" dy="5" class="i">int(11)</tspan><tspan x="41" dy="5" class="i">int(11)</tspan><tspan x="41" dy="5" class="i">int(11)</tspan><tspan x="41" dy="5" class="v">varchar(64)</tspan><tspan x="41" dy="5" class="v">varchar(64)</tspan><tspan x="41" dy="5" class="i">int(11)</tspan><tspan x="41" dy="5" class="d">datetime</tspan><tspan x="41" dy="5" class="i">int(11)</tspan><tspan x="41" dy="5" class="t">timestamp</tspan></text>
</g>
</svg>
